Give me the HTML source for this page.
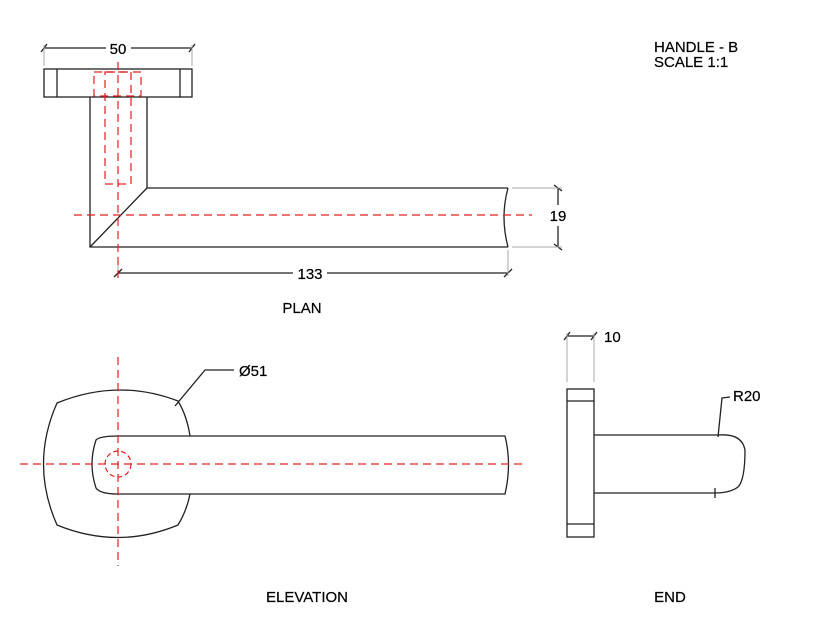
<!DOCTYPE html>
<html><head><style>body{margin:0;background:#fff}svg{display:block}text{font-family:"Liberation Sans",sans-serif;font-size:15px;fill:#000;stroke:#000;stroke-width:0.2}</style></head><body>
<svg width="818" height="632" viewBox="0 0 818 632" xmlns="http://www.w3.org/2000/svg">
<g fill="none" stroke="#222" stroke-width="1.3">
<!-- PLAN -->
<rect x="44" y="69" width="148" height="28"/>
<line x1="57" y1="69" x2="57" y2="97"/><line x1="180" y1="69" x2="180" y2="97"/>
<polyline points="90,97 90,247 508,247"/>
<polyline points="147,97 147,188 508,188"/>
<line x1="90" y1="247" x2="147" y2="188"/>
<path d="M508,188 Q500,217 508,247"/>
<!-- dims -->
<line x1="44" y1="48" x2="106" y2="48"/><line x1="131" y1="48" x2="192" y2="48"/>
<line x1="41" y1="52" x2="47" y2="44"/><line x1="189" y1="52" x2="195" y2="44"/>
<line x1="558" y1="188" x2="558" y2="205"/><line x1="558" y1="226" x2="558" y2="247"/>
<line x1="554" y1="185" x2="562" y2="191"/><line x1="554" y1="244" x2="562" y2="250"/>
<line x1="118" y1="273" x2="293" y2="273"/><line x1="327" y1="273" x2="508" y2="273"/>
<line x1="114" y1="277" x2="122" y2="269"/><line x1="504" y1="277" x2="512" y2="269"/>
<!-- ELEVATION -->
<path d="M190,436 Q187,416 178,401 Q118,378 57,403 Q30,464 57,525 Q118,550 178,525 Q187,510 190,494"/>
<path d="M188,436 L505,436 Q512,464 505,494 L188,494"/>
<path d="M188,436 L118,436 Q100,436 96,440 Q88,464 96,488 Q100,494 118,494 L188,494"/>
<polyline points="175,406 205,370 234,370"/>
<!-- END -->
<rect x="567" y="389" width="27" height="148"/>
<line x1="567" y1="401" x2="594" y2="401"/><line x1="567" y1="524" x2="594" y2="524"/>
<path d="M594,435 L718,435 Q742,433 745,450 Q745,480 738,487 Q730,493 715,493 L594,493"/>
<polyline points="718,437 722,398 730,397"/>
<line x1="715" y1="488" x2="715" y2="498"/>
<line x1="567" y1="336" x2="594" y2="336"/>
<line x1="564" y1="340" x2="570" y2="332"/><line x1="591" y1="340" x2="597" y2="332"/>
</g>
<g stroke="#aaa" stroke-width="1" fill="none">
<line x1="44" y1="45" x2="44" y2="66"/><line x1="192" y1="45" x2="192" y2="66"/>
<line x1="512" y1="188" x2="562" y2="188"/><line x1="512" y1="247" x2="562" y2="247"/>
<line x1="508" y1="250" x2="508" y2="276"/><line x1="118" y1="265" x2="118" y2="276"/>
<line x1="567" y1="333" x2="567" y2="382"/><line x1="594" y1="333" x2="594" y2="382"/>
</g>
<g stroke="#e02020" stroke-width="1.2" fill="none" stroke-dasharray="8,5">
<line x1="118" y1="62" x2="118" y2="282"/><line x1="74" y1="215" x2="532" y2="215"/>
<rect x="94" y="72" width="47" height="24"/><rect x="105" y="72" width="26" height="112"/>
<line x1="118" y1="357" x2="118" y2="566"/><line x1="20" y1="464" x2="522" y2="464"/>
<circle cx="118" cy="464" r="13" stroke-dasharray="5,3"/>
</g>
<text x="118" y="54" text-anchor="middle" font-size="16">50</text>
<text x="558" y="221" text-anchor="middle">19</text>
<text x="310" y="279" text-anchor="middle">133</text>
<text x="302" y="313" text-anchor="middle">PLAN</text>
<text x="239" y="376">Ø51</text>
<text x="604" y="342">10</text>
<text x="733" y="401">R20</text>
<text x="307" y="602" text-anchor="middle">ELEVATION</text>
<text x="670" y="602" text-anchor="middle">END</text>
<text x="654" y="52">HANDLE - B</text>
<text x="654" y="67">SCALE 1:1</text>
</svg>
</body></html>
